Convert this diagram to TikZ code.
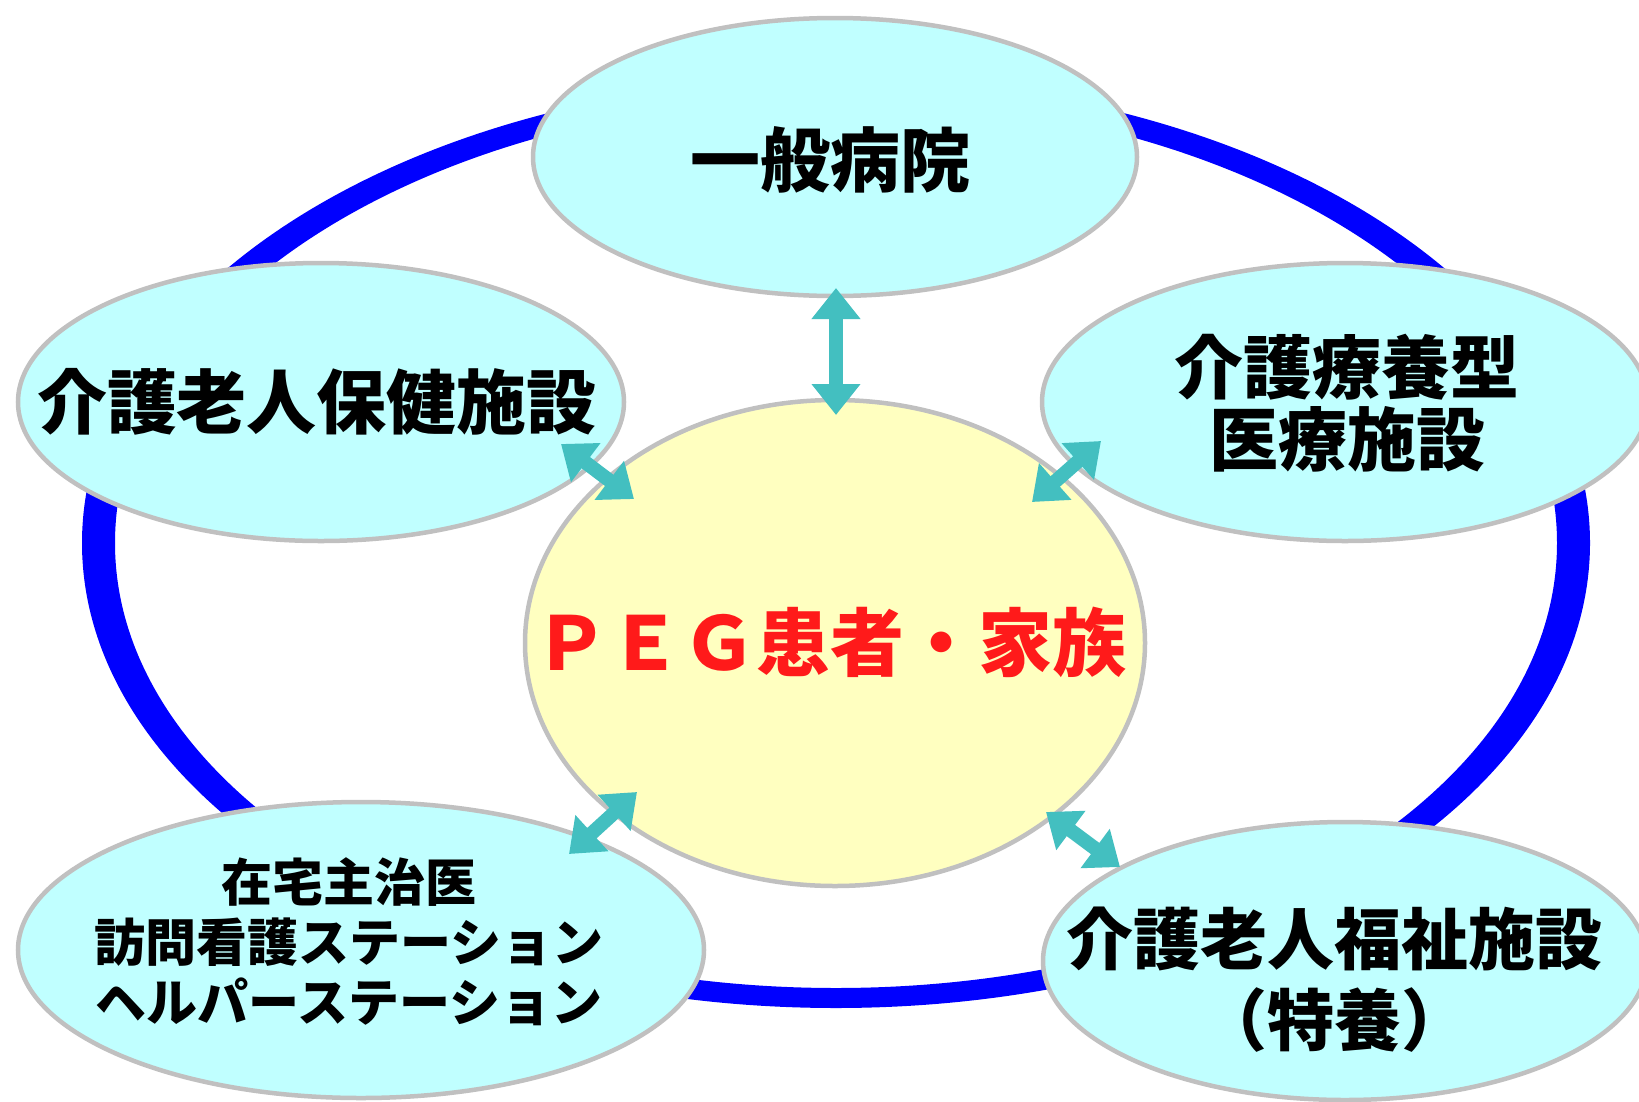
\documentclass[tikz,border=0pt]{standalone}
\usepackage{fontspec}
\newfontfamily\jp{Noto Sans CJK JP}
\usetikzlibrary{shapes.geometric,arrows.meta}
\definecolor{ringblue}{RGB}{0,0,255}
\definecolor{boxcyan}{RGB}{192,255,255}
\definecolor{coreyellow}{RGB}{255,255,192}
\definecolor{rimgray}{RGB}{192,192,192}
\definecolor{linkteal}{RGB}{67,191,192}
\definecolor{pegred}{RGB}{255,26,26}
\begin{document}
\begin{tikzpicture}[x=1pt,y=-1pt,
  place/.style={ellipse, draw=rimgray, line width=4.5pt, fill=boxcyan, inner sep=0pt},
  label text/.style={inner sep=0pt, align=center, text=black},
  link/.style={linkteal, line width=14pt, {Triangle[width=47pt,length=31pt]}-{Triangle[width=47pt,length=31pt]}},
]
\useasboundingbox (0,0) rectangle (1639,1101);
\clip (0,0) rectangle (1639,1101);
\fill[white] (0,0) rectangle (1639,1101);
% blue ring
\fill[ringblue, even odd rule] (836,543) ellipse [x radius=754pt, y radius=465pt]
  (836,543) ellipse [x radius=721pt, y radius=445pt];
% ellipses
\node[place, minimum width=604pt, minimum height=278pt] (hosp) at (835,157) {};
\node[place, minimum width=606pt, minimum height=278pt] (roken) at (321,402) {};
\node[place, minimum width=606pt, minimum height=278pt] (ryoyo) at (1345,402) {};
\node[place, fill=coreyellow, minimum width=620pt, minimum height=486pt] (peg) at (835,643) {};
\node[place, minimum width=686pt, minimum height=296pt] (home) at (361,950) {};
\node[place, minimum width=604pt, minimum height=278pt] (tokuyo) at (1345,961) {};
% texts
\node[label text, font=\jp\bfseries\fontsize{70}{84}\selectfont] (hospt) at (830,160) {一般病院};
\node[label text, font=\jp\bfseries\fontsize{70}{84}\selectfont] (rokent) at (317,402) {介護老人保健施設};
\node[label text, font=\jp\bfseries\fontsize{69}{72}\selectfont] (ryoyot) at (1347,403) {介護療養型\\医療施設};
\node[label text, text=pegred, font=\jp\bfseries\fontsize{74}{84}\selectfont] (pegt) at (830,642) {ＰＥＧ患者・家族};
\node[label text, font=\jp\bfseries\fontsize{51}{60}\selectfont] (homet) at (349,942) {在宅主治医\\訪問看護ステーション\\ヘルパーステーション};
\node[label text, font=\jp\bfseries\fontsize{67}{81}\selectfont] (tokuyot) at (1334,980) {介護老人福祉施設\\（特養）};
% arrow ends
\coordinate (v1) at (836,288);
\coordinate (v2) at (836,415);
\coordinate (a1) at (561,444);
\coordinate (a2) at (634,499);
\coordinate (b1) at (1101,441);
\coordinate (b2) at (1032,502);
\coordinate (c1) at (637,792);
\coordinate (c2) at (569,854);
\coordinate (d1) at (1046,812);
\coordinate (d2) at (1120,867);
\draw[link] (v1) -- (v2);
\draw[link] (a1) -- (a2);
\draw[link] (b1) -- (b2);
\draw[link] (c1) -- (c2);
\draw[link] (d1) -- (d2);
\end{tikzpicture}
\end{document}
